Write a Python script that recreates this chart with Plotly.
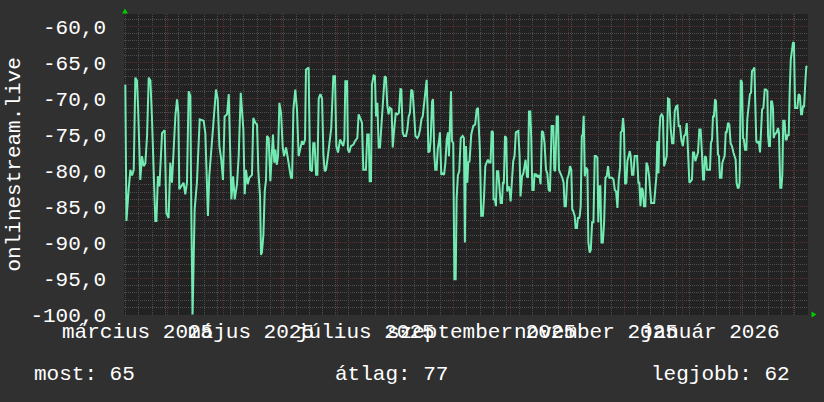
import pandas as pd
import plotly.graph_objects as go

# ---------------- data ----------------
start_date = "2025-03-09"
end_date = "2026-03-09"

# days since start_date, and the plotted value
day_offset = [
    0.7, 1.3, 2.5, 3.4, 4.3, 5.2, 6.05, 6.9, 7.5, 8.7, 9.6, 10.5, 11.4, 12.3, 13.2, 14.1, 14.9, 15.8,
    16.7, 17.3, 18.1, 18.9, 20.3, 21.7, 22.6, 23.8, 24.7, 25.6, 27.4, 28.3, 29.0, 29.5, 31.8, 32.7,
    33.6, 34.5, 35.4, 35.9, 36.6, 37.7, 38.9, 40.4, 42.5, 43.4, 44.8, 45.5, 46.6, 47.8, 49.1, 50.0,
    50.9, 51.9, 52.8, 53.7, 55.0, 55.9, 56.6, 57.3, 58.2, 59.1, 60.3,
    61.2, 62.3, 63.3, 63.7, 64.4, 65.1, 66.0, 66.9, 68.3, 69.0, 70.1, 71.0, 71.7, 72.6, 73.1, 73.6,
    74.4, 75.1, 75.8, 76.3, 77.2, 78.1, 78.8, 79.5, 80.2, 80.8, 81.5, 82.2, 82.9, 83.8, 84.7, 85.4,
    86.5, 87.3, 88.2, 89.1, 89.7, 90.4, 91.4, 92.3, 93.2, 94.1, 95.0, 95.7, 96.6, 97.1, 98.5, 99.3,
    100.3, 101.0, 101.7, 102.5, 103.2, 103.9, 104.8, 105.7, 106.4, 107.1, 107.8, 108.7, 109.6, 110.6,
    111.7, 112.6, 113.3, 114.2, 115.3, 116.3, 117.0, 117.6, 118.1, 119.0, 119.5, 120.2, 121.1,
    122.4, 123.3, 124.5, 125.2, 126.3, 127.0, 127.7, 129.1, 129.8, 130.6, 131.1, 131.8, 132.3, 133.2,
    133.9, 134.5, 135.2, 135.9, 136.6, 137.3, 138.4, 139.1, 139.8, 140.5, 141.2, 141.9, 142.8, 143.4,
    144.1, 145.0, 145.9, 146.7, 147.5, 148.0, 148.7, 149.4, 150.5, 151.2, 151.9, 152.6, 153.3, 154.0,
    154.8, 155.5, 156.5, 157.2, 158.0, 158.7, 159.4, 160.1, 160.8, 161.5, 162.0, 162.4, 163.1, 163.6,
    164.4, 164.9, 165.6, 166.1, 166.8, 167.4, 168.1, 168.6, 169.3, 170.0, 170.8, 171.5, 172.2, 172.9,
    173.4, 173.9, 174.5, 175.0, 175.7, 176.3, 177.0, 177.5, 178.2, 178.9, 179.7, 180.7, 181.4,
    181.9, 182.5, 183.2, 183.7, 184.4, 185.3, 186.4, 187.4, 188.2, 188.9, 189.4, 189.9, 190.6, 191.5,
    192.1, 192.8, 193.5, 194.2, 194.9, 195.6, 196.2, 196.9, 197.2, 197.9, 198.5, 199.0, 199.7, 200.3,
    201.0, 201.7, 202.2, 202.7, 203.3, 204.0, 204.5, 205.2, 205.8, 206.3, 207.0, 207.7, 208.4, 209.1,
    210.4, 211.1, 211.6, 212.4, 213.1, 213.8, 214.3, 215.0, 215.6, 216.1, 216.8, 217.3, 217.9, 218.6,
    219.1, 219.6, 220.2, 220.9, 221.6, 222.3, 223.0, 223.7, 224.4, 225.2, 225.9, 226.6, 227.3, 228.2,
    229.1, 229.6, 230.1, 230.9, 231.6, 232.1, 233.0, 233.9, 234.6, 235.1, 235.8, 236.5, 237.3, 238.0,
    238.7, 239.2, 239.7, 240.5, 241.0, 241.7, 242.2, 242.9,
    243.2, 243.7, 244.3, 244.8, 245.3, 245.9, 246.6, 247.3, 247.8, 248.5, 249.1, 249.8, 250.5, 251.2,
    251.9, 252.6, 253.1, 253.7, 254.2, 254.8, 255.5, 256.2, 256.9, 257.6, 258.3, 259.0, 260.4, 261.2,
    261.9, 262.6, 263.3, 264.0, 264.7, 265.1, 265.8, 266.3, 266.8, 267.4, 268.1, 268.6, 269.3, 269.9,
    270.4, 271.1, 271.8, 272.5, 273.8, 274.5, 275.0, 275.6, 276.3, 276.8, 277.5, 278.2, 278.8, 279.5,
    280.2, 280.7, 281.3, 282.9, 283.6, 284.1, 284.6, 285.2, 285.7, 286.2, 286.9, 287.6, 288.2, 288.9,
    289.6, 290.3, 291.0, 291.7, 292.5, 293.2, 293.9, 294.6, 295.3, 296.0, 296.7, 297.4, 298.2, 298.9,
    299.6, 300.3, 301.0, 301.7, 302.4,
    303.1, 303.6, 304.2, 304.9, 305.6, 306.3, 307.0, 307.7, 308.4, 309.0, 309.5, 310.0, 310.6, 311.1,
    312.7, 313.2, 313.8, 314.3, 314.8, 315.4, 315.9, 316.4, 317.0, 317.5, 318.0, 318.8, 319.3, 319.8,
    320.5, 321.1, 321.6, 322.3, 323.0, 323.7, 324.4, 325.2, 325.9, 326.4, 326.9, 327.5, 328.0, 328.5,
    329.1, 329.8, 330.3, 330.8, 331.4, 332.1, 332.6, 333.3, 334.0, 334.6, 335.1, 335.8, 336.4, 336.9,
    337.4, 338.0, 338.7, 339.4, 339.9, 340.5, 341.2, 341.9, 342.6, 343.3, 343.7, 344.2, 344.7, 345.3,
    345.8, 346.3, 346.7, 347.2, 348.3, 349.0, 349.5, 349.9, 350.2, 350.8, 351.3, 351.8, 352.5, 353.1,
    353.6, 354.1, 354.7, 355.2, 355.8, 356.5, 357.0, 357.5, 358.1, 358.6, 359.3, 360.0, 360.7, 361.3,
    361.8, 362.3, 362.9, 363.6, 364.1, 364.6,
]

online_value = [
    -68.1, -87.0, -82.6, -79.9, -80.7, -79.9, -67.1, -67.5, -71.1, -81.3, -78.0, -79.4, -79.0, -75.2,
    -67.1, -67.5, -72.5, -81.7, -87.0, -87.0, -80.8, -82.2, -74.8, -74.4, -85.9, -86.6, -78.9, -81.7,
    -72.5, -70.1, -72.0, -82.6, -81.7, -83.3, -81.7, -69.0, -69.6, -85.4, -100.0, -85.4, -81.7, -72.9,
    -73.1, -74.8, -86.3, -80.8, -77.1, -73.3, -68.75, -70.1, -76.6, -78.5, -81.3, -72.5, -72.2, -69.4,
    -77.1, -84.0, -80.8, -84.0, -81.9,
    -78.0, -69.2, -73.9, -74.3, -83.3, -79.9, -81.9, -81.0, -80.6, -72.7, -73.4, -73.6, -80.1, -83.6,
    -91.7, -91.4, -88.9, -82.9, -81.25, -75.2, -75.5, -81.5, -78.0, -75.0, -78.9, -77.1, -79.2, -78.0,
    -70.6, -72.0, -76.8, -78.0, -76.8, -78.0, -79.4, -81.0, -81.0, -71.5, -68.75, -71.5, -78.0, -76.8,
    -75.9, -76.4, -75.7, -66.0, -65.7, -79.9, -80.1, -76.2, -76.2, -80.6, -80.6, -70.0, -69.4, -70.0,
    -77.8, -80.1, -79.9, -78.2, -76.2, -74.1, -66.9, -66.9, -76.6, -77.5, -75.7, -76.2, -76.6, -75.7,
    -67.6, -67.6, -77.1, -77.5, -76.6,
    -76.4, -75.9, -75.5, -72.2, -72.9, -73.4, -79.9, -79.9, -75.0, -75.0, -81.5, -81.5, -68.1, -66.8,
    -66.9, -72.5, -70.6, -76.8, -76.8, -74.1, -70.6, -66.9, -67.1, -71.0, -72.2, -71.3, -71.5, -76.8,
    -74.5, -72.0, -72.2, -72.0, -68.7, -68.75, -74.7, -75.2, -75.2, -74.3, -72.5, -72.0, -68.75, -69.0,
    -72.0, -75.2, -75.5, -75.2, -74.3, -72.9, -72.5, -70.8, -70.0, -67.4, -71.5, -77.5, -77.3, -75.9,
    -70.4, -70.1, -77.8, -79.9, -79.9, -77.1, -75.9, -74.7, -80.6, -80.4, -80.6, -78.9, -75.7, -74.7,
    -78.0, -74.7, -69.0, -75.9, -76.2, -95.1, -95.1, -83.8, -80.6, -80.1, -75.5, -75.2, -75.5,
    -90.0, -76.6, -81.7, -78.9, -78.7, -75.0, -73.8, -73.6, -71.5, -71.3, -74.3, -77.1, -86.3, -86.3,
    -83.8, -79.4, -78.9, -78.5, -78.9, -78.9, -74.5, -74.7, -84.0, -84.0, -84.95, -80.1, -80.1, -82.7,
    -84.5, -84.5, -81.7, -81.7, -75.2, -75.5, -82.9, -82.2, -82.7, -84.3, -81.25, -78.7, -78.0, -74.7,
    -74.5, -78.0, -83.6, -80.8, -80.4, -79.4, -78.5, -80.8, -81.0, -71.8, -71.8, -75.2, -82.7, -82.7,
    -80.4, -80.8, -80.6, -81.0, -80.6, -81.9, -74.5, -74.7, -76.2, -79.9, -80.4, -82.7, -82.9, -73.8,
    -73.8, -79.9, -80.1, -72.5, -72.5, -79.9, -80.4, -81.0, -81.7, -84.95, -84.95, -81.25, -80.6, -79.4,
    -79.9, -85.4, -85.6, -86.3, -88.0, -88.0, -86.6, -86.6,
    -86.3, -84.95, -75.2, -75.0, -72.4, -80.8, -79.6, -79.9, -90.0, -91.4, -91.0, -87.2, -87.2, -78.0,
    -78.0, -78.2, -87.2, -82.2, -82.2, -90.0, -90.0, -87.2, -81.0, -80.8, -79.4, -81.0, -81.0, -81.25,
    -82.7, -82.9, -85.2, -81.25, -79.6, -74.7, -74.5, -72.7, -74.3, -81.9, -81.7, -78.7, -78.0, -77.3,
    -78.0, -80.6, -80.6, -78.0, -78.0, -81.7, -81.7, -84.95, -82.4, -82.7, -84.95, -84.95, -78.9, -79.4,
    -80.8, -82.2, -84.5, -84.5, -81.7, -80.8, -75.9, -80.4, -74.7, -72.5, -72.2, -72.5, -79.4, -78.7,
    -78.0, -70.0, -70.1, -74.1, -76.2, -76.2, -71.8, -71.1, -71.0, -73.8, -73.8, -75.7, -76.6, -75.2,
    -75.0, -73.4, -77.5, -81.7, -81.5,
    -81.25, -77.5, -77.5, -78.7, -78.0, -77.5, -74.3, -74.3, -77.5, -81.25, -81.25, -78.0, -78.2, -79.9,
    -79.9, -76.2, -75.7, -72.5, -72.5, -70.1, -70.4, -73.8, -77.8, -78.0, -81.0, -81.0, -78.9, -78.5,
    -78.0, -74.7, -74.7, -73.4, -73.6, -76.2, -76.6, -77.5, -78.0, -78.5, -81.7, -82.4, -82.4, -81.7,
    -67.4, -67.8, -75.5, -75.7, -77.1, -77.1, -72.9, -71.5, -69.4, -69.2, -66.2, -66.0, -65.7, -71.0,
    -75.9, -76.2, -75.9, -77.5, -75.2, -71.5, -71.3, -68.75, -68.75, -69.0, -75.2, -76.6, -76.6, -70.4,
    -70.4, -71.3, -75.5, -75.0, -74.7, -74.1, -74.7, -81.0, -82.4, -82.4, -80.6, -73.1, -73.1, -75.7,
    -75.7, -75.0, -75.2, -69.2, -64.6, -63.2, -62.2, -62.3, -71.3, -71.3, -71.3, -69.4, -69.6, -72.2,
    -72.2, -71.1, -71.1, -67.6, -65.6, -65.5,
]

y_range = [-100.07, -58.26]
y_tick_values = [-100, -95, -90, -85, -80, -75, -70, -65, -60]
y_tick_labels = ["-100,0", "-95,0", "-90,0", "-85,0", "-80,0", "-75,0", "-70,0", "-65,0", "-60,0"]

x_label_dates = ["2025-03-16", "2025-05-16", "2025-07-16", "2025-09-16", "2025-11-16", "2026-01-16"]
x_label_texts = ["március 2025", "május 2025", "július 2025", "szeptember 2025",
                 "november 2025", "január 2026"]

y_title = "onlinestream.live"
legend_texts = ["most: 65", "átlag: 77", "legjobb: 62"]

# ---------------- figure ----------------
W, H = 824, 402
L, R, T, B = 124, 16, 14, 87
PW, PH = W - L - R, H - T - B

FONT = "Liberation Mono, DejaVu Sans Mono, monospace"
FS = 21
TXT = "#ffffff"
MAJOR = "#5c3030"
MINOR = "#4c4c4c"


def px(xp):
    return (xp - L) / PW


def py(yp):
    return (H - B - yp) / PH


dates = pd.Timestamp(start_date) + pd.to_timedelta(day_offset, unit="D")

fig = go.Figure()
fig.add_trace(go.Scatter(
    x=dates, y=online_value, mode="lines",
    line=dict(color="#72EBB2", width=2),
    hoverinfo="skip", showlegend=False,
))

fig.update_layout(
    width=W, height=H,
    margin=dict(l=L, r=R, t=T, b=B, pad=0, autoexpand=False),
    paper_bgcolor="#303030",
    plot_bgcolor="#222222",
    font=dict(family=FONT, size=FS, color=TXT),
    showlegend=False,
)

fig.update_xaxes(
    type="date",
    range=[start_date, end_date],
    tickmode="linear", tick0="2025-04-01", dtick="M1",
    showticklabels=False, ticks="",
    showgrid=True, gridcolor=MAJOR, gridwidth=1, griddash="1px,1px",
    minor=dict(tickmode="linear", tick0="2025-03-10", dtick=7 * 86400000,
               showgrid=True, gridcolor=MINOR, gridwidth=1, griddash="1px,1px", ticks=""),
    zeroline=False, showline=False, fixedrange=True, automargin=False,
)

fig.update_yaxes(
    range=y_range,
    tickmode="array", tickvals=y_tick_values, ticktext=y_tick_labels,
    ticks="", ticklabelstandoff=17,
    tickfont=dict(family=FONT, size=FS, color=TXT),
    showgrid=True, gridcolor=MAJOR, gridwidth=1, griddash="1px,1px",
    minor=dict(tickmode="linear", tick0=-100, dtick=1,
               showgrid=True, gridcolor=MINOR, gridwidth=1, griddash="1px,1px", ticks=""),
    zeroline=False, showline=False, fixedrange=True, automargin=False,
)

annotations = []
for d, t in zip(x_label_dates, x_label_texts):
    annotations.append(dict(
        x=d, xref="x", y=py(332), yref="paper", text=t, showarrow=False,
        xanchor="center", yanchor="middle",
        font=dict(family=FONT, size=FS, color=TXT),
    ))

annotations.append(dict(
    x=px(14), xref="paper", y=0.5, yref="paper", text=y_title, showarrow=False,
    textangle=-90, xanchor="center", yanchor="middle",
    font=dict(family=FONT, size=FS, color=TXT),
))

legend_pos = [(32, "left"), (391, "center"), (792, "right")]
for (xp, anc), t in zip(legend_pos, legend_texts):
    annotations.append(dict(
        x=px(xp), xref="paper", y=py(374), yref="paper", text=t, showarrow=False,
        xanchor=anc, yanchor="middle",
        font=dict(family=FONT, size=FS, color=TXT),
    ))

fig.update_layout(annotations=annotations)


# small green axis arrows (RRDtool style)
def tri(points):
    p = "M " + " L ".join(f"{px(a)},{py(b)}" for a, b in points) + " Z"
    return dict(type="path", path=p, xref="paper", yref="paper",
                fillcolor="#00cc00", line=dict(width=0), layer="above")


fig.update_layout(shapes=[
    tri([(125, 8.5), (122, 13.5), (128, 13.5)]),
    tri([(816.5, 314.5), (811.5, 311.5), (811.5, 317.5)]),
])

fig.write_html(
    "out.html",
    config={"displayModeBar": False, "staticPlot": True},
    post_script="document.body.style.margin='0';document.body.style.background='#303030';",
)
